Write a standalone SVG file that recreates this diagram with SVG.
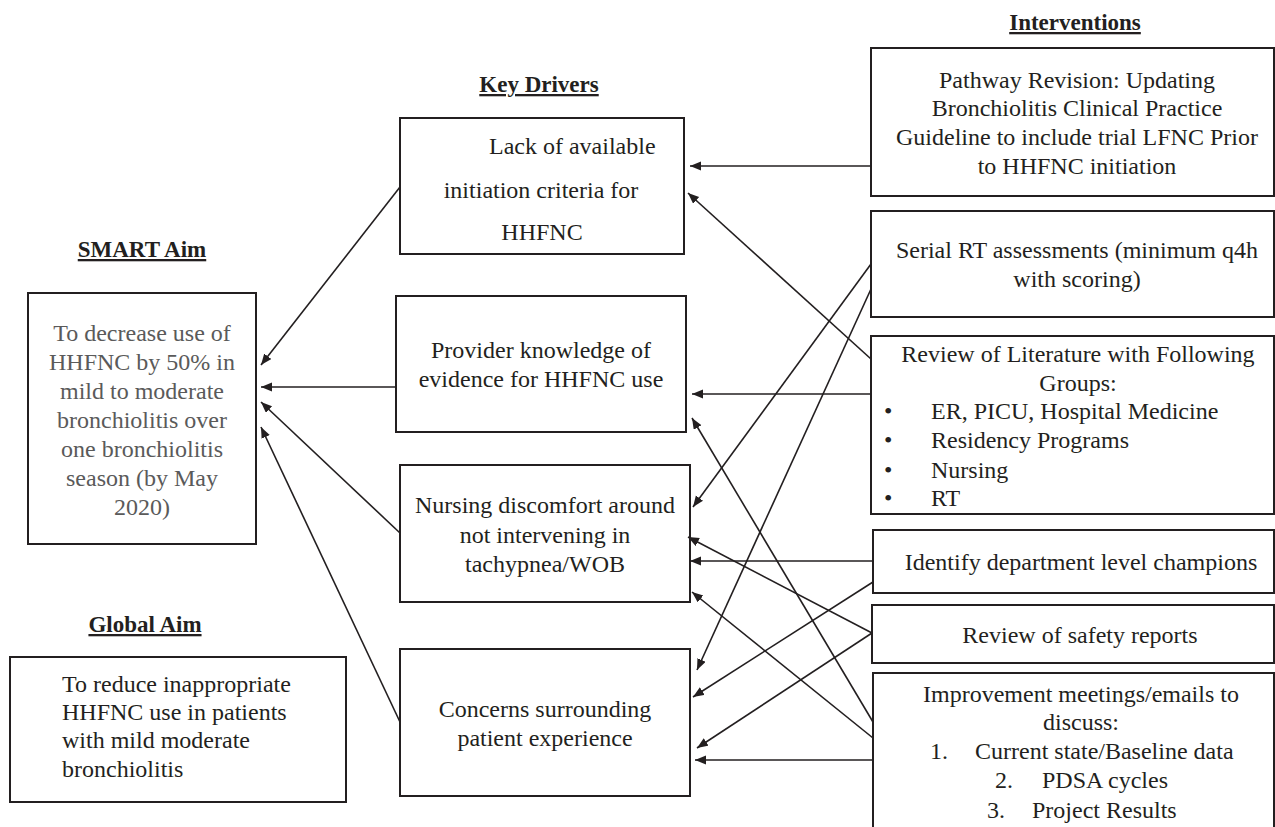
<svg xmlns="http://www.w3.org/2000/svg" width="1275" height="827" viewBox="0 0 1275 827">
<style>
text{font-family:"Liberation Serif","Times New Roman",serif;font-size:24px;fill:#231f20}
.c{text-anchor:middle}
.t{font-weight:bold;font-size:23px;text-decoration:underline;text-anchor:middle}
.g{fill:#5a5a5a}
rect{fill:#fff;stroke:#231f20;stroke-width:2}
.cn line{stroke:#231f20;stroke-width:1.6;marker-end:url(#ah)}
</style>
<defs>
<marker id="ah" markerUnits="userSpaceOnUse" markerWidth="12" markerHeight="10" refX="11" refY="4.5" orient="auto">
<path d="M0,0 L11,4.5 L0,9 z" fill="#231f20"/>
</marker>
</defs>
<rect x="0" y="0" width="1275" height="827" style="stroke:none"/>
<text class="t" x="1075" y="30">Interventions</text>
<text class="t" x="539" y="92">Key Drivers</text>
<text class="t" x="142" y="257">SMART Aim</text>
<text class="t" x="145" y="632">Global Aim</text>

<g id="smart">
<rect x="28" y="293" width="228" height="251"/>
<text class="c g" x="142" y="341">To decrease use of</text>
<text class="c g" x="142" y="370">HHFNC by 50% in</text>
<text class="c g" x="142" y="399">mild to moderate</text>
<text class="c g" x="142" y="428">bronchiolitis over</text>
<text class="c g" x="142" y="457">one bronchiolitis</text>
<text class="c g" x="142" y="486">season (by May</text>
<text class="c g" x="142" y="515">2020)</text>
</g>
<g id="global">
<rect x="10" y="657" width="336" height="145"/>
<text x="62" y="692">To reduce inappropriate</text>
<text x="62" y="720">HHFNC use in patients</text>
<text x="62" y="748">with mild moderate</text>
<text x="62" y="777">bronchiolitis</text>
</g>
<g id="kd1">
<rect x="400" y="118" width="284" height="136"/>
<text x="489" y="154">Lack of available</text>
<text class="c" x="541" y="198">initiation criteria for</text>
<text class="c" x="542" y="240">HHFNC</text>
</g>
<g id="kd2">
<rect x="396" y="296" width="290" height="136"/>
<text class="c" x="541" y="358">Provider knowledge of</text>
<text class="c" x="541" y="387">evidence for HHFNC use</text>
</g>
<g id="kd3">
<rect x="400" y="465" width="290" height="137"/>
<text class="c" x="545" y="513">Nursing discomfort around</text>
<text class="c" x="545" y="543">not intervening in</text>
<text class="c" x="545" y="572">tachypnea/WOB</text>
</g>
<g id="kd4">
<rect x="400" y="649" width="290" height="147"/>
<text class="c" x="545" y="717">Concerns surrounding</text>
<text class="c" x="545" y="746">patient experience</text>
</g>
<g id="i1">
<rect x="871" y="48" width="403" height="148"/>
<text class="c" x="1077" y="88">Pathway Revision: Updating</text>
<text class="c" x="1077" y="116">Bronchiolitis Clinical Practice</text>
<text class="c" x="1077" y="145">Guideline to include trial LFNC Prior</text>
<text class="c" x="1077" y="174">to HHFNC initiation</text>
</g>
<g id="i2">
<rect x="871" y="211" width="403" height="106"/>
<text class="c" x="1077" y="258">Serial RT assessments (minimum q4h</text>
<text class="c" x="1077" y="287">with scoring)</text>
</g>
<g id="i3">
<rect x="871" y="336" width="403" height="178"/>
<text class="c" x="1078" y="362">Review of Literature with Following</text>
<text class="c" x="1078" y="391">Groups:</text>
<text x="884" y="419">•</text><text x="931" y="419">ER, PICU, Hospital Medicine</text>
<text x="884" y="448">•</text><text x="931" y="448">Residency Programs</text>
<text x="884" y="478">•</text><text x="931" y="478">Nursing</text>
<text x="884" y="506">•</text><text x="931" y="506">RT</text>
</g>
<g id="i4">
<rect x="873" y="530" width="401" height="63"/>
<text class="c" x="1081" y="570">Identify department level champions</text>
</g>
<g id="i5">
<rect x="872" y="605" width="402" height="58"/>
<text class="c" x="1080" y="643">Review of safety reports</text>
</g>
<g id="i6">
<rect x="873" y="673" width="401" height="170"/>
<text class="c" x="1081" y="702">Improvement meetings/emails to</text>
<text class="c" x="1081" y="730">discuss:</text>
<text x="930" y="759">1.</text><text x="975" y="759">Current state/Baseline data</text>
<text x="995" y="788">2.</text><text x="1042" y="788">PDSA cycles</text>
<text x="987" y="818">3.</text><text x="1032" y="818">Project Results</text>
</g>
<g id="connectors" class="cn">
<line x1="400" y1="187" x2="261" y2="365"/>
<line x1="396" y1="387" x2="261" y2="387"/>
<line x1="400" y1="533" x2="261" y2="402"/>
<line x1="400" y1="722" x2="261" y2="427"/>
<line x1="871" y1="166" x2="690" y2="166"/>
<line x1="871" y1="359" x2="688" y2="193"/>
<line x1="871" y1="394" x2="692" y2="394"/>
<line x1="871" y1="264" x2="693" y2="507"/>
<line x1="871" y1="289" x2="697" y2="670"/>
<line x1="873" y1="722" x2="692" y2="418"/>
<line x1="872" y1="633" x2="688" y2="537"/>
<line x1="873" y1="561" x2="690" y2="561"/>
<line x1="873" y1="738" x2="692" y2="592"/>
<line x1="873" y1="582" x2="693" y2="697"/>
<line x1="872" y1="633" x2="697" y2="748"/>
<line x1="873" y1="760" x2="695" y2="760"/>
</g>
</svg>
